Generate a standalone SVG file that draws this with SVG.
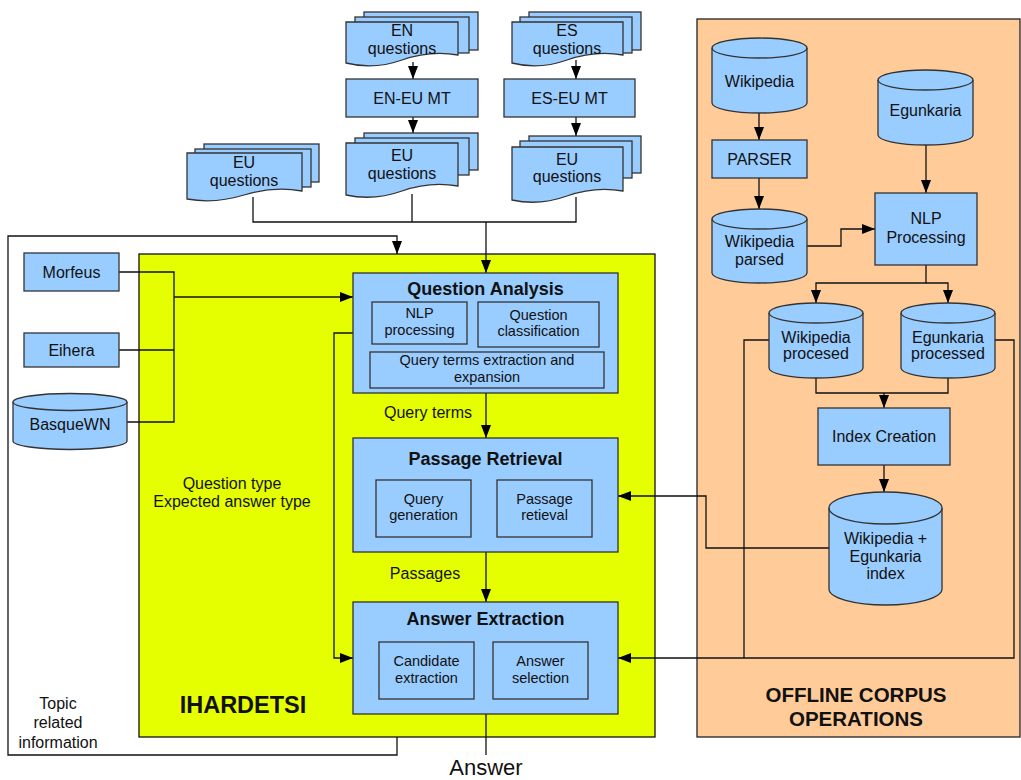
<svg xmlns="http://www.w3.org/2000/svg" width="1021" height="780" viewBox="0 0 1021 780">
<style>
text{font-family:"Liberation Sans",Arial,sans-serif;fill:#111;text-anchor:middle}
.n{fill:#99ccff;stroke:#333;stroke-width:1.3}
.s{fill:#99ccff;stroke:#333;stroke-width:1.3}
.c{fill:none;stroke:#111;stroke-width:1.3}
.t16{font-size:16px}
.t14{font-size:14.5px}
.b18{font-size:18px;font-weight:bold}
</style>
<defs>
<marker id="a" viewBox="0 0 13 10" refX="13" refY="5" markerWidth="13" markerHeight="10" orient="auto" markerUnits="userSpaceOnUse"><path d="M0,0 L13,5 L0,10 z" fill="#000"/></marker>
</defs>

<g id="containers">
<rect x="139" y="254" width="516" height="483" fill="#e6ff00" stroke="#111" stroke-width="1.3"/>
<rect x="697" y="19" width="323" height="718" fill="#ffcc99" stroke="#222" stroke-width="1.3"/>
<text x="243" y="712.5" style="font-size:23.5px;font-weight:bold">IHARDETSI</text>
<text x="856" y="701.5" style="font-size:20.5px;font-weight:bold">OFFLINE CORPUS</text>
<text x="856" y="725.5" style="font-size:20.5px;font-weight:bold">OPERATIONS</text>
</g>

<g id="connectors">
<path class="c" d="M413,62 V79" marker-end="url(#a)"/>
<path class="c" d="M413,117 V133" marker-end="url(#a)"/>
<path class="c" d="M576,60 V79" marker-end="url(#a)"/>
<path class="c" d="M576,117 V136" marker-end="url(#a)"/>
<path class="c" d="M253,197 V222 H576 V197 M412,194 V222"/>
<path class="c" d="M486,222 V273" marker-end="url(#a)"/>
<path class="c" d="M119,272 H174 V422 H127 M119,350 H174"/>
<path class="c" d="M174,297 H353" marker-end="url(#a)"/>
<path class="c" d="M486,393 V438" marker-end="url(#a)"/>
<path class="c" d="M486,552 V602" marker-end="url(#a)"/>
<path class="c" d="M486,714 V755"/>
<path class="c" d="M353,333 H334 V658 H353" marker-end="url(#a)"/>
<path class="c" d="M397,737 V755 H8 V236 H397 V254" marker-end="url(#a)"/>
<path class="c" d="M759,113 V140" marker-end="url(#a)"/>
<path class="c" d="M759,178 V209" marker-end="url(#a)"/>
<path class="c" d="M926,145 V193" marker-end="url(#a)"/>
<path class="c" d="M807,246 H841 V229 H875" marker-end="url(#a)"/>
<path class="c" d="M926,265 V283 H816 V303" marker-end="url(#a)"/>
<path class="c" d="M926,283 H948 V303" marker-end="url(#a)"/>
<path class="c" d="M816,378 V393 H948 V378"/>
<path class="c" d="M884,393 V408" marker-end="url(#a)"/>
<path class="c" d="M884,465 V492" marker-end="url(#a)"/>
<path class="c" d="M829,548 H706 V496 H618" marker-end="url(#a)"/>
<path class="c" d="M769,340 H744 V658"/>
<path class="c" d="M995,340 H1014 V658 H618" marker-end="url(#a)"/>
</g>

<g id="en-questions">
<rect class="n" x="364" y="12" width="114" height="38"/>
<rect class="n" x="355" y="17" width="114" height="36"/>
<path class="n" d="M346,22 H458 V55 Q430,50 402,60 T346,63 Z"/>
<text class="t16" x="402" y="35.5">EN</text>
<text class="t16" x="402" y="53.5">questions</text>
</g>
<g id="es-questions">
<rect class="n" x="529" y="12" width="112" height="38"/>
<rect class="n" x="520" y="17" width="112" height="36"/>
<path class="n" d="M512,22 H623 V55 Q595,50 567,60 T512,63 Z"/>
<text class="t16" x="567" y="35.5">ES</text>
<text class="t16" x="567" y="53.5">questions</text>
</g>
<g id="en-eu-mt">
<rect class="n" x="346" y="79" width="132" height="38"/>
<text class="t16" x="412" y="103.5">EN-EU MT</text>
</g>
<g id="es-eu-mt">
<rect class="n" x="504" y="79" width="131" height="38"/>
<text class="t16" x="569.5" y="103.5">ES-EU MT</text>
</g>
<g id="eu-questions-left">
<rect class="n" x="204" y="144" width="115" height="38"/>
<rect class="n" x="195" y="149" width="116" height="38"/>
<path class="n" d="M187,153 H302 V191 Q273,186 244,195 T187,199 Z"/>
<text class="t16" x="244" y="167.5">EU</text>
<text class="t16" x="244" y="185.5">questions</text>
</g>
<g id="eu-questions-en">
<rect class="n" x="364" y="133" width="114" height="37"/>
<rect class="n" x="355" y="138" width="114" height="37"/>
<path class="n" d="M346,143 H458 V186 Q430,181 402,191 T346,195 Z"/>
<text class="t16" x="402" y="160.5">EU</text>
<text class="t16" x="402" y="178.5">questions</text>
</g>
<g id="eu-questions-es">
<rect class="n" x="529" y="136" width="112" height="37"/>
<rect class="n" x="520" y="141" width="112" height="37"/>
<path class="n" d="M512,147 H623 V191 Q595,186 567,196 T512,200 Z"/>
<text class="t16" x="567" y="164.5">EU</text>
<text class="t16" x="567" y="181.5">questions</text>
</g>

<g id="morfeus">
<rect class="n" x="24" y="253" width="95" height="38"/>
<text class="t16" x="71.5" y="277.5">Morfeus</text>
</g>
<g id="eihera">
<rect class="n" x="24" y="333" width="95" height="34"/>
<text class="t16" x="71.5" y="355.5">Eihera</text>
</g>
<g id="basquewn">
<path class="n" d="M13,402 A57,8.5 0 0 1 127,402 V441 A57,8.5 0 0 1 13,441 Z"/>
<path class="c" style="stroke:#333" d="M13,402 A57,8.5 0 0 0 127,402"/>
<text class="t16" x="70" y="429.5">BasqueWN</text>
</g>

<g id="question-analysis">
<rect class="n" x="353" y="273" width="265" height="120"/>
<text class="b18" x="485.5" y="294.5">Question Analysis</text>
<rect class="s" x="372" y="302" width="95" height="42"/>
<text class="t14" x="419.5" y="318">NLP</text>
<text class="t14" x="419.5" y="335">processing</text>
<rect class="s" x="478" y="302" width="121" height="45"/>
<text class="t14" x="538.5" y="320">Question</text>
<text class="t14" x="538.5" y="336">classification</text>
<rect class="s" x="370" y="352" width="234" height="36"/>
<text class="t14" x="487" y="365">Query terms extraction and</text>
<text class="t14" x="487" y="382">expansion</text>
</g>
<text class="t16" x="428" y="417.5">Query terms</text>

<g id="passage-retrieval">
<rect class="n" x="353" y="438" width="265" height="114"/>
<text class="b18" x="485.5" y="464.5">Passage Retrieval</text>
<rect class="s" x="376" y="480" width="95" height="57"/>
<text class="t14" x="423.5" y="504">Query</text>
<text class="t14" x="423.5" y="520">generation</text>
<rect class="s" x="497" y="480" width="95" height="57"/>
<text class="t14" x="544.5" y="504">Passage</text>
<text class="t14" x="544.5" y="520">retieval</text>
</g>
<text class="t16" x="425" y="578.5">Passages</text>

<g id="answer-extraction">
<rect class="n" x="353" y="602" width="265" height="112"/>
<text class="b18" x="485.5" y="624.5">Answer Extraction</text>
<rect class="s" x="379" y="642" width="95" height="57"/>
<text class="t14" x="426.5" y="666">Candidate</text>
<text class="t14" x="426.5" y="683">extraction</text>
<rect class="s" x="493" y="642" width="95" height="57"/>
<text class="t14" x="540.5" y="666">Answer</text>
<text class="t14" x="540.5" y="683">selection</text>
</g>

<g id="labels">
<text class="t16" x="232" y="488.5">Question type</text>
<text class="t16" x="232" y="506.5">Expected answer type</text>
<text class="t16" x="58" y="708.5">Topic</text>
<text class="t16" x="58" y="727.5">related</text>
<text class="t16" x="58" y="747.5">information</text>
<text x="486" y="775" style="font-size:22px">Answer</text>
</g>

<g id="wikipedia">
<path class="n" d="M712,48 A47.5,10 0 0 1 807,48 V103 A47.5,10 0 0 1 712,103 Z"/>
<path class="c" style="stroke:#333" d="M712,48 A47.5,10 0 0 0 807,48"/>
<text class="t16" x="759.5" y="86.5">Wikipedia</text>
</g>
<g id="parser">
<rect class="n" x="712" y="140" width="95" height="38"/>
<text class="t16" x="759.5" y="164.5">PARSER</text>
</g>
<g id="wikipedia-parsed">
<path class="n" d="M712,219 A47.5,10 0 0 1 807,219 V273 A47.5,10 0 0 1 712,273 Z"/>
<path class="c" style="stroke:#333" d="M712,219 A47.5,10 0 0 0 807,219"/>
<text class="t16" x="759.5" y="246.5">Wikipedia</text>
<text class="t16" x="759.5" y="264.5">parsed</text>
</g>
<g id="egunkaria">
<path class="n" d="M878,80 A47.5,10 0 0 1 973,80 V135 A47.5,10 0 0 1 878,135 Z"/>
<path class="c" style="stroke:#333" d="M878,80 A47.5,10 0 0 0 973,80"/>
<text class="t16" x="925.5" y="115.5">Egunkaria</text>
</g>
<g id="nlp-processing">
<rect class="n" x="875" y="193" width="102" height="72"/>
<text class="t16" x="926" y="223.5">NLP</text>
<text class="t16" x="926" y="242.5">Processing</text>
</g>
<g id="wikipedia-procesed">
<path class="n" d="M769,313 A47,10 0 0 1 863,313 V368 A47,10 0 0 1 769,368 Z"/>
<path class="c" style="stroke:#333" d="M769,313 A47,10 0 0 0 863,313"/>
<text class="t16" x="816" y="342.5">Wikipedia</text>
<text class="t16" x="816" y="358.5">procesed</text>
</g>
<g id="egunkaria-processed">
<path class="n" d="M901,313 A47,10 0 0 1 995,313 V368 A47,10 0 0 1 901,368 Z"/>
<path class="c" style="stroke:#333" d="M901,313 A47,10 0 0 0 995,313"/>
<text class="t16" x="948" y="342.5">Egunkaria</text>
<text class="t16" x="948" y="358.5">processed</text>
</g>
<g id="index-creation">
<rect class="n" x="818" y="408" width="132" height="57"/>
<text class="t16" x="884" y="441.5">Index Creation</text>
</g>
<g id="index">
<path class="n" d="M829,508 A56.5,16 0 0 1 942,508 V589 A56.5,16 0 0 1 829,589 Z"/>
<path class="c" style="stroke:#333" d="M829,508 A56.5,16 0 0 0 942,508"/>
<text class="t16" x="885.5" y="543.5">Wikipedia +</text>
<text class="t16" x="885.5" y="561.5">Egunkaria</text>
<text class="t16" x="885.5" y="578.5">index</text>
</g>
</svg>
